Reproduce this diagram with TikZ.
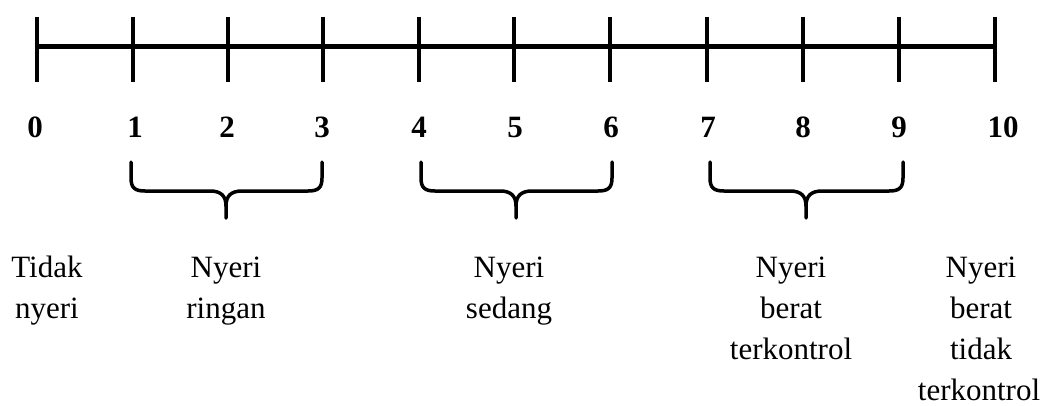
\documentclass[tikz,border=0pt]{standalone}
\usepackage{fontspec}
\setmainfont{Liberation Serif}
\begin{document}
\begin{tikzpicture}[x=1pt,y=-1pt,
  axis/.style={line width=5pt},
  tick/.style={line width=4pt},
  bracepath/.style={line width=3.5pt,line cap=round,line join=round},
  num/.style={font=\fontsize{31}{37}\selectfont\bfseries,anchor=base,inner sep=0pt},
  lbl/.style={font=\fontsize{31}{41}\selectfont,anchor=base,inner sep=0pt}]
\useasboundingbox (0,0) rectangle (1050,405);

% scale endpoints
\coordinate (s0) at (37,46);
\coordinate (s10) at (995,46);
\draw[axis] (s0) -- (s10);

% ticks
\foreach \i/\x in {0/37,1/133,2/228,3/323,4/419,5/514,6/610,7/707,8/803,9/899,10/995}{
  \coordinate (t\i a) at (\x,17);
  \coordinate (t\i b) at (\x,82);
  \draw[tick] (t\i a) -- (t\i b);
}

% numbers
\foreach \i/\x in {0/35,1/135,2/227,3/322,4/419,5/515,6/611,7/708,8/803,9/899,10/1003}{
  \node[num] (n\i) at (\x,137) {\i};
}

% braces: left end, right end, centre
\foreach \k/\a/\b/\c in {1/131/322/226,2/421/612/516,3/710/903/806}{
  \draw[bracepath] (\a,162) -- (\a,178) .. controls (\a,188) and (\a+4,191) .. (\a+14,191)
    -- (\c-16,191) .. controls (\c-5,191) and (\c,196) .. (\c,206) -- (\c,218);
  \draw[bracepath] (\b,162) -- (\b,178) .. controls (\b,188) and (\b-4,191) .. (\b-14,191)
    -- (\c+16,191) .. controls (\c+5,191) and (\c,196) .. (\c,206);
}

% category labels
\node[lbl] (l0a) at (47,277) {Tidak};
\node[lbl] (l0b) at (47,318) {nyeri};
\node[lbl] (l1a) at (226,277) {Nyeri};
\node[lbl] (l1b) at (226,318) {ringan};
\node[lbl] (l2a) at (509,277) {Nyeri};
\node[lbl] (l2b) at (509,318) {sedang};
\node[lbl] (l3a) at (791,277) {Nyeri};
\node[lbl] (l3b) at (791,318) {berat};
\node[lbl] (l3c) at (791,359) {terkontrol};
\node[lbl] (l4a) at (981,277) {Nyeri};
\node[lbl] (l4b) at (981,318) {berat};
\node[lbl] (l4c) at (981,359) {tidak};
\node[lbl] (l4d) at (979,400) {terkontrol};
\end{tikzpicture}
\end{document}
